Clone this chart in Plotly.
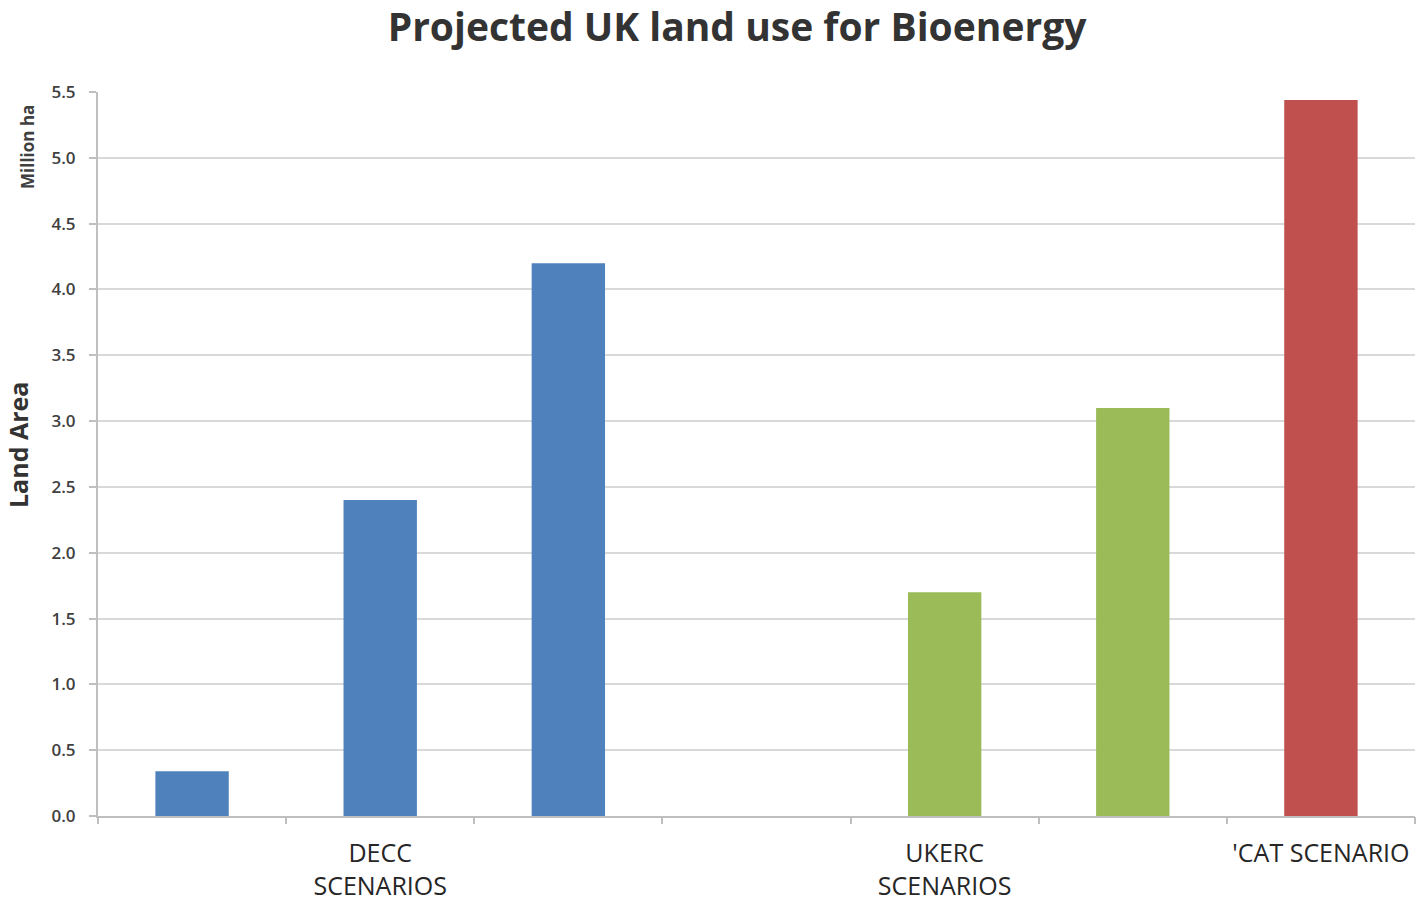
import plotly.graph_objects as go

slots = [0, 1, 2, 3, 4, 5, 6]
values = [0.34, 2.4, 4.2, None, 1.7, 3.1, 5.44]
colors = ["#4F81BD", "#4F81BD", "#4F81BD", "#4F81BD", "#9BBB59", "#9BBB59", "#C0504D"]
label_pos = [1, 4, 6]
label_text = ["DECC<br>SCENARIOS", "UKERC<br>SCENARIOS", "'CAT SCENARIO"]
y_ticks = [0, 0.5, 1, 1.5, 2, 2.5, 3, 3.5, 4, 4.5, 5, 5.5]
y_ticktext = [f"{v:.1f}" for v in y_ticks]
sep_ticks = [s - 0.5 for s in slots] + [6.5]

FONT = "Open Sans"
W, H = 1418, 902
ML, MR, MT, MB = 98, 3, 92, 86
plot_w = W - ML - MR
plot_h = H - MT - MB

fig = go.Figure()
fig.add_trace(go.Bar(x=slots, y=values, marker=dict(color=colors, line=dict(width=0)),
                     width=0.39, showlegend=False))
fig.add_trace(go.Scatter(x=[-0.5, 6.5], y=[None, None], xaxis="x2", showlegend=False,
                         hoverinfo="skip"))

fig.update_layout(
    width=W, height=H,
    margin=dict(l=ML, r=MR, t=MT, b=MB),
    paper_bgcolor="white", plot_bgcolor="white",
    title=dict(text="<b>Projected UK land use for Bioenergy</b>", x=737 / W, xanchor="center",
               xref="container", yref="container",
               y=1 - 27 / H, yanchor="middle", font=dict(family=FONT, size=39, color="#333333")),
    xaxis=dict(range=[-0.5, 6.5], tickmode="array", tickvals=label_pos, ticktext=label_text,
               ticks="", showgrid=False, showline=True, linecolor="#bfbfbf", linewidth=2,
               tickfont=dict(family=FONT, size=25, color="#262626"), zeroline=False,
               ticklabelstandoff=14, automargin=False),
    xaxis2=dict(range=[-0.5, 6.5], overlaying="x", tickmode="array", tickvals=sep_ticks,
                ticktext=["" for _ in sep_ticks], ticks="outside", ticklen=7, tickcolor="#bfbfbf",
                tickwidth=2, showgrid=False, showline=False, side="bottom", anchor="y",
                zeroline=False, automargin=False),
    yaxis=dict(range=[0, 5.5], tickmode="array", tickvals=y_ticks, ticktext=y_ticktext,
               showgrid=True, gridcolor="#d9d9d9", gridwidth=2, showline=True, linecolor="#bfbfbf",
               linewidth=2, ticks="outside", ticklen=7, tickcolor="#bfbfbf", tickwidth=2,
               tickfont=dict(family=FONT, size=17, color="#404040", weight=600), zeroline=False,
               ticklabelstandoff=10, automargin=False),
    bargap=0.61,
)
fig.add_annotation(text="<b>Land Area</b>", textangle=-90,
                   x=(18 - ML) / plot_w, y=(plot_h - (445 - MT)) / plot_h,
                   xref="paper", yref="paper", xanchor="center", yanchor="middle",
                   showarrow=False, font=dict(family=FONT, size=25, color="#333333"))
fig.add_annotation(text="<b>Million ha</b>", textangle=-90,
                   x=(28 - ML) / plot_w, y=(plot_h - (147 - MT)) / plot_h,
                   xref="paper", yref="paper", xanchor="center", yanchor="middle",
                   showarrow=False, font=dict(family=FONT, size=17, color="#404040"))

fig.write_html("out.html", config={"displayModeBar": False},
               post_script="document.body.style.margin='0';")
